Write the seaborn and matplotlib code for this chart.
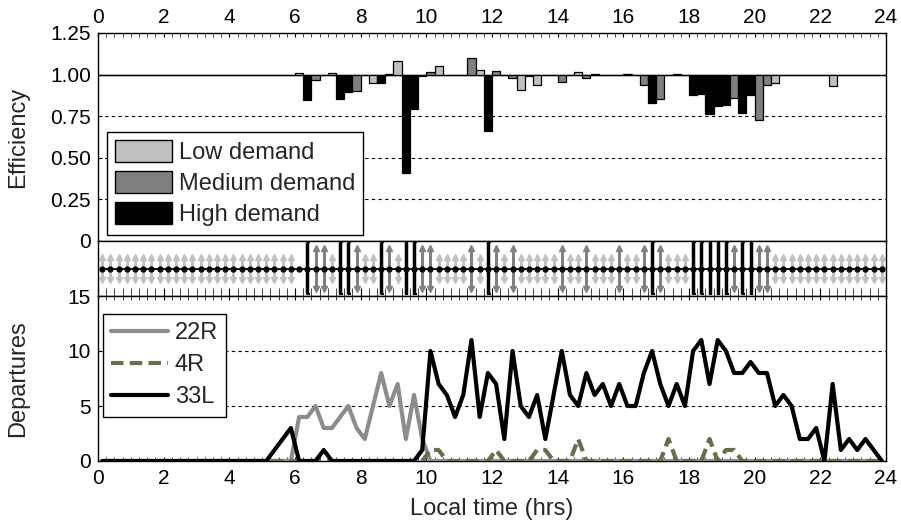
import numpy as np
import pandas as pd
import matplotlib
matplotlib.use('Agg')
import matplotlib.pyplot as plt
import seaborn as sns
from matplotlib.ticker import MultipleLocator
from matplotlib.patches import Patch
from matplotlib.lines import Line2D

# --- Data: 15-minute slots over the day ---
slot_time = np.arange(0.125, 24, 0.25)

# efficiency per slot (bars hang from 1.0)
efficiency = [
    1.0, 1.0, 1.0, 1.0, 1.0, 1.0, 1.0, 1.0,
    1.0, 1.0, 1.0, 1.0, 1.0, 1.0, 1.0, 1.0,
    1.0, 1.0, 1.0, 1.0, 1.0, 1.0, 1.0, 1.0,
    1.008, 0.845, 0.97, 1.0, 1.008, 0.855, 0.894, 0.90,
    1.0, 0.948, 0.948, 1.005, 1.08, 0.41, 0.795, 0.99,
    1.016, 1.05, 1.0, 1.0, 1.0, 1.10, 1.03, 0.66,
    1.02, 1.0, 0.98, 0.905, 0.99, 0.94, 1.0, 1.0,
    0.955, 1.0, 1.014, 0.98, 1.005, 1.0, 1.0, 1.0,
    1.005, 1.0, 0.94, 0.83, 0.855, 1.0, 1.005, 1.0,
    0.88, 0.885, 0.765, 0.81, 0.82, 0.86, 0.77, 0.875,
    0.725, 0.94, 0.948, 1.0, 1.0, 1.0, 1.0, 1.0,
    1.0, 0.93, 1.0, 1.0, 1.0, 1.0, 1.0, 1.0,
]

# demand level per slot: L = low, M = medium, H = high, - = none
demand = list(
    "LLLLLLLL" "LLLLLLLL" "LLLLLLLL"
    "-HMMLHHM" "LLHMLHHM" "MLLLLMLH"
    "MLMLLLLL" "MLLMLLLM" "LLMHMLLL"
    "HHHHHMHH" "MMLLLLLL" "LLLLLLLL"
)

dep_22R = [0] * 24 + [4, 4, 5, 3, 3, 4, 5, 3, 2, 5, 8, 5, 7, 2, 6, 2] + [0] * 56

dep_4R = [0] * 96
for k, v in {40: 1, 41: 1, 48: 1, 53: 1, 54: 1, 58: 2, 69: 2, 74: 2, 76: 1, 77: 1}.items():
    dep_4R[k] = v

dep_33L = (
    [0] * 16
    + [0, 0, 0, 0, 0, 1, 2, 3]
    + [0, 0, 0, 1, 0, 0, 0, 0]
    + [0, 0, 0, 0, 0, 0, 0, 1]
    + [10, 7, 6, 4, 6, 11, 4, 8]
    + [7, 2, 10, 5, 4, 6, 2, 6]
    + [10, 6, 5, 8, 6, 7, 5, 7]
    + [5, 5, 8, 10, 7, 5, 7, 5]
    + [10, 11, 7, 11, 10, 8, 8, 9]
    + [8, 8, 5, 6, 5, 2, 2, 3]
    + [0, 7, 1, 2, 1, 2, 1, 0]
)

RUNWAYS = ['22R', '4R', '33L']
RUNWAY_COLORS = {'22R': '#8c8c8c', '4R': '#6b6b4e', '33L': '#000000'}
RUNWAY_DASHES = {'22R': '', '4R': (3, 1.5), '33L': ''}

DEMAND_LABELS = ['Low demand', 'Medium demand', 'High demand']
DEMAND_COLORS = {'L': '#c0c0c0', 'M': '#808080', 'H': '#000000', '-': '#c0c0c0'}

# --- Style ---
sns.set_style('ticks')
plt.rcParams['font.family'] = ['Liberation Sans', 'DejaVu Sans']
plt.rcParams['axes.edgecolor'] = 'black'
plt.rcParams['axes.linewidth'] = 1.0
TICK_FS = 15
LABEL_FS = 17
LEGEND_FS = 17

fig = plt.figure(figsize=(9.01, 5.23), dpi=100)
L, W = 98 / 901, 788 / 901
ax_top = fig.add_axes([L, 1 - 241 / 523, W, 208 / 523])
ax_mid = fig.add_axes([L, 1 - 296 / 523, W, 55 / 523])
ax_bot = fig.add_axes([L, 1 - 461 / 523, W, 165 / 523])

# --- Top: efficiency bars ---
eff = np.array(efficiency)
bar_colors = [DEMAND_COLORS[d] for d in demand]
ax_top.bar(slot_time, eff - 1.0, width=0.25, bottom=1.0, color=bar_colors,
           edgecolor='black', linewidth=0.9, zorder=3)
for y in [0.25, 0.5, 0.75]:
    ax_top.axhline(y, color='black', lw=0.8, ls=(0, (3, 3)), zorder=1)
ax_top.axhline(1.0, color='black', lw=1.0, zorder=2)
ax_top.set_ylim(0, 1.25)
ax_top.set_yticks([0, 0.25, 0.5, 0.75, 1.0, 1.25])
ax_top.set_yticklabels(['0', '0.25', '0.50', '0.75', '1.00', '1.25'])
ax_top.set_ylabel('Efficiency', fontsize=LABEL_FS)
ax_top.yaxis.set_label_coords(-0.088, 0.5)

handles = [Patch(facecolor=DEMAND_COLORS[c], edgecolor='black', label=lab)
           for c, lab in zip(['L', 'M', 'H'], DEMAND_LABELS)]
leg = ax_top.legend(handles=handles, loc='lower left', bbox_to_anchor=(0.011, 0.03),
                    borderaxespad=0, fontsize=LEGEND_FS, handlelength=2.4, handleheight=1.05,
                    fancybox=False, edgecolor='black', framealpha=1,
                    borderpad=0.35, labelspacing=0.3, handletextpad=0.3)
leg.get_frame().set_linewidth(1.0)

# --- Middle: demand strip ---
demand_arr = np.array(demand)
ax_mid.plot(slot_time, np.full(len(slot_time), 0.5), color='black', lw=1.3,
            marker='o', ms=3.5, zorder=3)
for code, half, col in [('L', 0.21, DEMAND_COLORS['L']), ('M', 0.37, DEMAND_COLORS['M'])]:
    t = slot_time[demand_arr == code]
    ax_mid.vlines(t, 0.5 - half, 0.5 + half, color=col, lw=2.2, zorder=1)
    ax_mid.plot(t, np.full(len(t), 0.5 + half), '^', color=col, ms=4.5, zorder=1)
    ax_mid.plot(t, np.full(len(t), 0.5 - half), 'v', color=col, ms=4.5, zorder=1)
t_high = slot_time[demand_arr == 'H']
ax_mid.vlines(t_high, 0.03, 0.98, color='black', lw=2.5, zorder=4)
ax_mid.hlines([0.98] * len(t_high), t_high - 0.02, t_high + 0.08, color='black', lw=1.5, zorder=4)
ax_mid.hlines([0.03] * len(t_high), t_high - 0.02, t_high + 0.08, color='black', lw=1.5, zorder=4)
ax_mid.set_ylim(0, 1)
ax_mid.set_yticks([])

# --- Bottom: departures per runway ---
df = pd.DataFrame({
    'time': np.tile(slot_time, 3),
    'departures': dep_22R + dep_4R + dep_33L,
    'runway': ['22R'] * 96 + ['4R'] * 96 + ['33L'] * 96,
})
sns.lineplot(data=df, x='time', y='departures', hue='runway', style='runway',
             hue_order=RUNWAYS, style_order=RUNWAYS, palette=RUNWAY_COLORS,
             dashes=RUNWAY_DASHES, linewidth=3, errorbar=None, legend=False,
             ax=ax_bot, zorder=3)
for y in [5, 10]:
    ax_bot.axhline(y, color='black', lw=0.8, ls=(0, (3, 3)), zorder=1)
ax_bot.set_ylim(0, 15)
ax_bot.set_yticks([0, 5, 10, 15])
ax_bot.set_ylabel('Departures', fontsize=LABEL_FS)
ax_bot.yaxis.set_label_coords(-0.088, 0.5)
ax_bot.set_xlabel('Local time (hrs)', fontsize=LABEL_FS)
ax_bot.xaxis.set_label_coords(0.5, -0.225)

line_handles = [Line2D([0], [0], color=RUNWAY_COLORS[r], lw=3,
                       ls='--' if r == '4R' else '-', label=r) for r in RUNWAYS]
line_handles[1].set_dashes((3, 1.5))
leg2 = ax_bot.legend(handles=line_handles, loc='upper left', bbox_to_anchor=(0.006, 0.89),
                     borderaxespad=0, fontsize=LEGEND_FS, handlelength=2.4,
                     fancybox=False, edgecolor='black', framealpha=1,
                     borderpad=0.35, labelspacing=0.42, handletextpad=0.3)
leg2.get_frame().set_linewidth(1.0)

# --- Axes / ticks ---
for ax in [ax_top, ax_mid, ax_bot]:
    ax.set_xlim(0, 24)
    ax.xaxis.set_major_locator(MultipleLocator(2))
    ax.xaxis.set_minor_locator(MultipleLocator(0.25))
    ax.tick_params(labelsize=TICK_FS, colors='black')
    for sp in ax.spines.values():
        sp.set_color('black')
        sp.set_linewidth(1.0)

ax_top.tick_params(axis='x', which='both', top=True, bottom=False, labeltop=True,
                   labelbottom=False, direction='in', length=3, pad=4)
ax_top.tick_params(axis='y', direction='in', length=3, pad=5)
ax_mid.tick_params(axis='x', which='both', bottom=True, top=False, labelbottom=False,
                   direction='in', length=5.5)
ax_bot.tick_params(axis='x', which='both', bottom=True, top=True, labelbottom=True,
                   direction='in', length=3, pad=6)
ax_bot.tick_params(axis='y', direction='in', length=3, pad=5)

fig.savefig('out.png', dpi=100)
